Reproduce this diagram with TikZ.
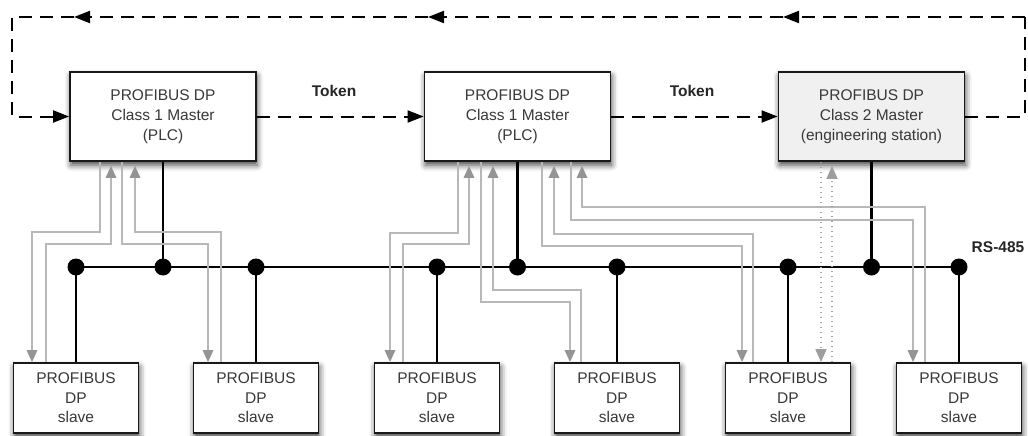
\documentclass[tikz,border=0pt]{standalone}
\usepackage{fontspec}
\setmainfont{Liberation Sans}
\usetikzlibrary{arrows.meta,shadows.blur}

\begin{document}
\begin{tikzpicture}[x=1pt,y=-1pt,
  box/.style={draw=black!90, line width=1.8pt, fill=white, align=center, text=black!78,
    inner sep=0pt, font=\fontsize{15.5}{20}\selectfont,
    blur shadow={shadow xshift=1pt, shadow yshift=-4pt, shadow blur radius=6pt, shadow opacity=75}},
  master/.style={box, minimum width=186pt, minimum height=89pt},
  slave/.style={box, minimum width=125pt, minimum height=70pt, font=\fontsize{15.5}{19.5}\selectfont},
  lbl/.style={font=\bfseries\fontsize{15.5}{18}\selectfont, text=black!85},
  junction/.style={circle, fill=black, inner sep=0pt, minimum size=17pt},
  wire/.style={draw=black, line width=2.6pt},
  tok/.style={draw=black, line width=2pt, dash pattern=on 13pt off 8pt},
  tokarrow/.style={tok, -{Triangle[length=16pt,width=12pt]}},
  req/.style={draw=black!28, line width=1.7pt},
  reqarrow/.style={req, -{Triangle[length=12pt,width=10.5pt,color=black!42]}},
  upper/.style={shorten >=4pt},
  acyc/.style={draw=black!35, line width=1.5pt, dash pattern=on 1.5pt off 3.5pt},
  acycarrow/.style={acyc, -{Triangle[length=13pt,width=11pt,color=black!38]}}
]
\useasboundingbox (0,0) rectangle (1028,436);

% masters
\node[master] (m1) at (163,116.5) {PROFIBUS DP\\Class 1 Master\\(PLC)};
\node[master] (m2) at (517.5,116.5) {PROFIBUS DP\\Class 1 Master\\(PLC)};
\node[master, fill=black!6] (m3) at (871.5,116.5) {PROFIBUS DP\\Class 2 Master\\(engineering station)};

% slaves
\foreach \n/\x in {1/76, 2/256, 3/437, 4/617, 5/788, 6/959}
  \node[slave] (s\n) at (\x,398) {PROFIBUS\\DP\\slave};

% labels
\node[lbl] (t1) at (334,91) {Token};
\node[lbl] (t2) at (692,91) {Token};
\node[lbl] (rs) at (998,247) {RS-485};

% token ring
\coordinate (cr) at (1025,17);
\coordinate (ta) at (783,17);
\coordinate (tb) at (428,17);
\coordinate (tc) at (74,17);
\coordinate (cl) at (12,17);
\draw[tokarrow] (m1.east) -- (m2.west);
\draw[tokarrow] (m2.east) -- (m3.west);
\draw[tok] (m3.east) -| (cr);
\draw[tokarrow] (cr) -- (ta);
\draw[tokarrow] (ta) -- (tb);
\draw[tokarrow] (tb) -- (tc);
\draw[tokarrow] (tc) -- (cl) |- (m1.west);

% RS-485 bus
\foreach \n/\x in {1/76, 2/256, 3/437, 4/617, 5/788, 6/959}
  \coordinate (j\n) at (\x,267);
\coordinate (jm1) at (163,267);
\coordinate (jm2) at (517.5,267);
\coordinate (jm3) at (871.5,267);
\draw[wire] (j1) -- (j6);
\foreach \n in {1,...,6} \draw[wire] (j\n) -- (s\n.north);
\foreach \n in {1,2,3} \draw[wire] (m\n.south) -- (jm\n);

% cyclic data exchange, master 1
\draw[reqarrow] (m1.south -| 100,0) |- (32,232) -- (s1.north -| 32,0);
\draw[reqarrow, upper] (s1.north -| 46,0) |- (111,244) -- (m1.south -| 111,0);
\draw[reqarrow] (m1.south -| 122,0) |- (208,244) -- (s2.north -| 208,0);
\draw[reqarrow, upper] (s2.north -| 221,0) |- (135,232) -- (m1.south -| 135,0);

% cyclic data exchange, master 2
\draw[reqarrow] (m2.south -| 458,0) |- (390,233) -- (s3.north -| 390,0);
\draw[reqarrow, upper] (s3.north -| 403,0) |- (469,244) -- (m2.south -| 469,0);
\draw[reqarrow] (m2.south -| 481,0) |- (570,302) -- (s4.north -| 570,0);
\draw[reqarrow, upper] (s4.north -| 581,0) |- (493,290) -- (m2.south -| 493,0);
\draw[reqarrow] (m2.south -| 542,0) |- (742,246) -- (s5.north -| 742,0);
\draw[reqarrow, upper] (s5.north -| 753,0) |- (554,234) -- (m2.south -| 554,0);
\draw[reqarrow] (m2.south -| 571,0) |- (913,220) -- (s6.north -| 913,0);
\draw[reqarrow, upper] (s6.north -| 925,0) |- (582,207) -- (m2.south -| 582,0);

% acyclic access, class 2 master
\draw[acycarrow] (m3.south -| 821,0) -- (s5.north -| 821,0);
\draw[acycarrow, upper] (s5.north -| 832,0) -- (m3.south -| 832,0);

% bus junctions
\foreach \n in {1,...,6} \node[junction] (d\n) at (j\n) {};
\foreach \n in {1,2,3} \node[junction] (dm\n) at (jm\n) {};
\end{tikzpicture}
\end{document}
